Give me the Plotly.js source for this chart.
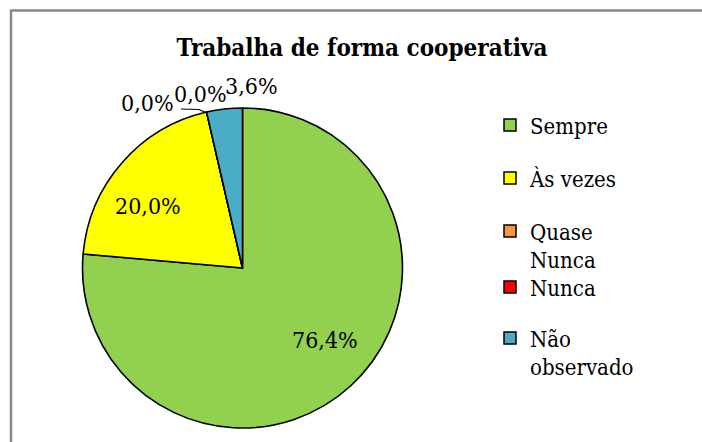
<!DOCTYPE html>
<html>
<head>
<meta charset="utf-8">
<script src="https://cdn.plot.ly/plotly-3.0.1.min.js"></script>
<style>
  html, body { margin: 0; padding: 0; background: #ffffff; }
  #chart { width: 702px; height: 442px; }
</style>
</head>
<body>
<div id="chart"></div>
<script>
// Answer categories, their shares (%) and slice colours
const categories = ['Sempre', 'Às vezes', 'Quase Nunca', 'Nunca', 'Não observado'];
const legendLabels = ['Sempre', 'Às vezes', 'Quase<br>Nunca', 'Nunca', 'Não<br>observado'];
const shares = [76.4, 20.0, 0.0, 0.0, 3.6];
const sliceColors = ['#92D050', '#FFFF00', '#F79646', '#FF0000', '#4BACC6'];
const chartTitle = 'Trabalha de forma cooperativa';

const W = 702, H = 442;
const px = x => x / W;          // pixel -> paper x
const py = y => 1 - y / H;      // pixel (from top) -> paper y

const serif = 'DejaVu Serif Condensed';
const total = shares.reduce((a, b) => a + b, 0);
const pctText = v => (v / total * 100).toFixed(1).replace('.', ',') + '%';

const pie = {
  type: 'pie',
  labels: categories,
  values: shares,
  sort: false,
  direction: 'clockwise',
  rotation: 0,
  marker: { colors: sliceColors, line: { color: '#000000', width: 1.6 } },
  textinfo: 'none',
  domain: { x: [px(82.5), px(402.5)], y: [py(428), py(108)] },
  showlegend: false,
  hoverinfo: 'skip'
};

// Legend entries, one legend box per category
const legendFontSize = 22;
const legendCenters = [125, 178, 231, 287, 338];
const legendTraces = categories.map((c, i) => ({
  type: 'scatter',
  mode: 'markers',
  x: [null], y: [null],
  name: legendLabels[i],
  legend: i === 0 ? 'legend' : 'legend' + (i + 1),
  marker: { symbol: 'square', size: 12, color: sliceColors[i], line: { color: '#000000', width: 1.5 } },
  showlegend: true,
  hoverinfo: 'skip'
}));

const layout = {
  width: W, height: H,
  margin: { l: 0, r: 0, t: 0, b: 0 },
  paper_bgcolor: '#ffffff',
  plot_bgcolor: 'rgba(0,0,0,0)',
  separators: ',.',
  font: { family: serif, color: '#000000' },
  title: {
    text: '<b>' + chartTitle + '</b>',
    font: { family: serif, size: 24, color: '#000000' },
    x: 362 / W, xref: 'container', xanchor: 'center',
    y: 1 - 48 / H, yref: 'container', yanchor: 'middle'
  },
  xaxis: { visible: false },
  yaxis: { visible: false },
  shapes: [
    // chart frame
    { type: 'rect', xref: 'paper', yref: 'paper',
      x0: px(11), x1: 1.02, y0: -0.02, y1: py(10.5),
      line: { color: '#898989', width: 2.5 } },
    // leader line for a thin-slice label
    { type: 'path', xref: 'paper', yref: 'paper',
      path: 'M' + px(181) + ',' + py(109) + ' L' + px(199) + ',' + py(109.5) + ' L' + px(207) + ',' + py(113),
      line: { color: '#000000', width: 1.2 } }
  ],
  annotations: []
};

// Percentage label of every slice (pixel anchor of each label)
const labelPos = [[325, 340], [148, 206], [147, 103], [200, 94], [251, 86]];
shares.forEach((v, i) => {
  const p = labelPos[i];
  layout.annotations.push({
    text: pctText(v), showarrow: false,
    xref: 'paper', yref: 'paper', x: px(p[0]), y: py(p[1]),
    xanchor: 'center', yanchor: 'middle',
    font: { family: serif, size: 23, color: '#000000' }
  });
});

// Position of each legend box (top edge sits above the first text line)
const firstLineOffset = 5 + (1.3 * legendFontSize + 3) / 2;
legendCenters.forEach((cy, i) => {
  const key = i === 0 ? 'legend' : 'legend' + (i + 1);
  layout[key] = {
    x: px(490), xanchor: 'left',
    y: py(cy - firstLineOffset), yanchor: 'top',
    valign: 'top',
    bgcolor: 'rgba(0,0,0,0)',
    borderwidth: 0,
    font: { family: serif, size: legendFontSize, color: '#000000' }
  };
});

Plotly.newPlot('chart', [pie].concat(legendTraces), layout, { displayModeBar: false, staticPlot: true });
</script>
</body>
</html>
